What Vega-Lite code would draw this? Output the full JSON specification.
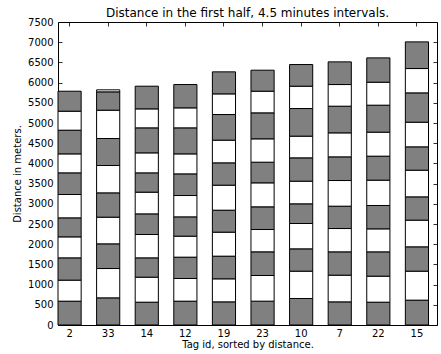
{
  "$schema": "https://vega.github.io/schema/vega-lite/v6.json",
  "width": 379,
  "height": 303,
  "autosize": "none",
  "padding": {"left": 58, "top": 22, "right": 4, "bottom": 29},
  "title": {"text": "Distance in the first half, 4.5 minutes intervals.", "fontSize": 12, "font": "DejaVu Sans", "fontWeight": "normal", "offset": -3, "color": "black"},
  "config": {
    "view": {"stroke": "black", "strokeWidth": 1},
    "axis": {"domain": false, "grid": false, "labelFont": "DejaVu Sans", "titleFont": "DejaVu Sans", "labelColor": "black", "titleColor": "black", "labelFontSize": 10, "titleFontSize": 10, "titleFontWeight": "normal", "tickColor": "black", "tickSize": -4, "tickWidth": 0.8}
  },
  "data": {"values": [
    {"tag": "2", "interval": 1, "distance": 590}, {"tag": "2", "interval": 2, "distance": 520}, {"tag": "2", "interval": 3, "distance": 552}, {"tag": "2", "interval": 4, "distance": 520}, {"tag": "2", "interval": 5, "distance": 470}, {"tag": "2", "interval": 6, "distance": 578}, {"tag": "2", "interval": 7, "distance": 536}, {"tag": "2", "interval": 8, "distance": 470}, {"tag": "2", "interval": 9, "distance": 586}, {"tag": "2", "interval": 10, "distance": 470}, {"tag": "2", "interval": 11, "distance": 495},
    {"tag": "33", "interval": 1, "distance": 672}, {"tag": "33", "interval": 2, "distance": 726}, {"tag": "33", "interval": 3, "distance": 611}, {"tag": "33", "interval": 4, "distance": 660}, {"tag": "33", "interval": 5, "distance": 602}, {"tag": "33", "interval": 6, "distance": 677}, {"tag": "33", "interval": 7, "distance": 668}, {"tag": "33", "interval": 8, "distance": 701}, {"tag": "33", "interval": 9, "distance": 454}, {"tag": "33", "interval": 10, "distance": 50},
    {"tag": "14", "interval": 1, "distance": 565}, {"tag": "14", "interval": 2, "distance": 619}, {"tag": "14", "interval": 3, "distance": 478}, {"tag": "14", "interval": 4, "distance": 578}, {"tag": "14", "interval": 5, "distance": 511}, {"tag": "14", "interval": 6, "distance": 537}, {"tag": "14", "interval": 7, "distance": 478}, {"tag": "14", "interval": 8, "distance": 495}, {"tag": "14", "interval": 9, "distance": 619}, {"tag": "14", "interval": 10, "distance": 470}, {"tag": "14", "interval": 11, "distance": 561},
    {"tag": "12", "interval": 1, "distance": 590}, {"tag": "12", "interval": 2, "distance": 561}, {"tag": "12", "interval": 3, "distance": 528}, {"tag": "12", "interval": 4, "distance": 520}, {"tag": "12", "interval": 5, "distance": 478}, {"tag": "12", "interval": 6, "distance": 528}, {"tag": "12", "interval": 7, "distance": 536}, {"tag": "12", "interval": 8, "distance": 495}, {"tag": "12", "interval": 9, "distance": 644}, {"tag": "12", "interval": 10, "distance": 495}, {"tag": "12", "interval": 11, "distance": 577},
    {"tag": "19", "interval": 1, "distance": 573}, {"tag": "19", "interval": 2, "distance": 570}, {"tag": "19", "interval": 3, "distance": 561}, {"tag": "19", "interval": 4, "distance": 594}, {"tag": "19", "interval": 5, "distance": 544}, {"tag": "19", "interval": 6, "distance": 619}, {"tag": "19", "interval": 7, "distance": 553}, {"tag": "19", "interval": 8, "distance": 561}, {"tag": "19", "interval": 9, "distance": 635}, {"tag": "19", "interval": 10, "distance": 511}, {"tag": "19", "interval": 11, "distance": 545},
    {"tag": "23", "interval": 1, "distance": 590}, {"tag": "23", "interval": 2, "distance": 635}, {"tag": "23", "interval": 3, "distance": 586}, {"tag": "23", "interval": 4, "distance": 553}, {"tag": "23", "interval": 5, "distance": 561}, {"tag": "23", "interval": 6, "distance": 594}, {"tag": "23", "interval": 7, "distance": 511}, {"tag": "23", "interval": 8, "distance": 578}, {"tag": "23", "interval": 9, "distance": 643}, {"tag": "23", "interval": 10, "distance": 536}, {"tag": "23", "interval": 11, "distance": 520},
    {"tag": "10", "interval": 1, "distance": 656}, {"tag": "10", "interval": 2, "distance": 676}, {"tag": "10", "interval": 3, "distance": 553}, {"tag": "10", "interval": 4, "distance": 627}, {"tag": "10", "interval": 5, "distance": 487}, {"tag": "10", "interval": 6, "distance": 561}, {"tag": "10", "interval": 7, "distance": 577}, {"tag": "10", "interval": 8, "distance": 537}, {"tag": "10", "interval": 9, "distance": 684}, {"tag": "10", "interval": 10, "distance": 553}, {"tag": "10", "interval": 11, "distance": 536},
    {"tag": "7", "interval": 1, "distance": 573}, {"tag": "7", "interval": 2, "distance": 660}, {"tag": "7", "interval": 3, "distance": 578}, {"tag": "7", "interval": 4, "distance": 577}, {"tag": "7", "interval": 5, "distance": 553}, {"tag": "7", "interval": 6, "distance": 635}, {"tag": "7", "interval": 7, "distance": 586}, {"tag": "7", "interval": 8, "distance": 594}, {"tag": "7", "interval": 9, "distance": 660}, {"tag": "7", "interval": 10, "distance": 536}, {"tag": "7", "interval": 11, "distance": 561},
    {"tag": "22", "interval": 1, "distance": 565}, {"tag": "22", "interval": 2, "distance": 644}, {"tag": "22", "interval": 3, "distance": 602}, {"tag": "22", "interval": 4, "distance": 569}, {"tag": "22", "interval": 5, "distance": 578}, {"tag": "22", "interval": 6, "distance": 627}, {"tag": "22", "interval": 7, "distance": 594}, {"tag": "22", "interval": 8, "distance": 594}, {"tag": "22", "interval": 9, "distance": 668}, {"tag": "22", "interval": 10, "distance": 569}, {"tag": "22", "interval": 11, "distance": 602},
    {"tag": "15", "interval": 1, "distance": 615}, {"tag": "15", "interval": 2, "distance": 717}, {"tag": "15", "interval": 3, "distance": 603}, {"tag": "15", "interval": 4, "distance": 660}, {"tag": "15", "interval": 5, "distance": 577}, {"tag": "15", "interval": 6, "distance": 660}, {"tag": "15", "interval": 7, "distance": 578}, {"tag": "15", "interval": 8, "distance": 610}, {"tag": "15", "interval": 9, "distance": 726}, {"tag": "15", "interval": 10, "distance": 602}, {"tag": "15", "interval": 11, "distance": 660}
  ]},
  "layer": [
    {
      "mark": {"type": "bar", "stroke": "black", "strokeWidth": 1},
      "encoding": {
        "x": {"field": "tag", "type": "ordinal", "sort": ["2", "33", "14", "12", "19", "23", "10", "7", "22", "15"],
              "scale": {"paddingInner": 0.4, "paddingOuter": 0.11, "align": 0},
              "axis": {"labelAngle": 0, "title": "Tag id, sorted by distance.", "labelPadding": 7, "titlePadding": 1}},
        "y": {"field": "distance", "type": "quantitative", "stack": "zero", "scale": {"domain": [0, 7500], "nice": false},
              "axis": {"values": [0, 500, 1000, 1500, 2000, 2500, 3000, 3500, 4000, 4500, 5000, 5500, 6000, 6500, 7000, 7500], "format": "d", "title": "Distance in meters.", "labelPadding": 9, "titlePadding": 5}},
        "color": {"field": "interval", "type": "ordinal", "scale": {"domain": [1, 2, 3, 4, 5, 6, 7, 8, 9, 10, 11], "range": ["#808080", "#ffffff", "#808080", "#ffffff", "#808080", "#ffffff", "#808080", "#ffffff", "#808080", "#ffffff", "#808080"]}, "legend": null},
        "order": {"field": "interval", "type": "quantitative", "sort": "ascending"}
      }
    },
    {
      "mark": {"type": "bar", "opacity": 0},
      "encoding": {
        "x": {"field": "tag", "type": "ordinal", "sort": ["2", "33", "14", "12", "19", "23", "10", "7", "22", "15"],
              "axis": {"orient": "top", "labels": false, "title": null, "minExtent": 0, "maxExtent": 0}},
        "y": {"field": "distance", "type": "quantitative", "stack": "zero",
              "axis": {"orient": "right", "labels": false, "title": null, "minExtent": 0, "maxExtent": 0, "values": [0, 500, 1000, 1500, 2000, 2500, 3000, 3500, 4000, 4500, 5000, 5500, 6000, 6500, 7000, 7500]}},
        "order": {"field": "interval", "type": "quantitative", "sort": "ascending"}
      }
    }
  ],
  "resolve": {"axis": {"x": "independent", "y": "independent"}}
}
